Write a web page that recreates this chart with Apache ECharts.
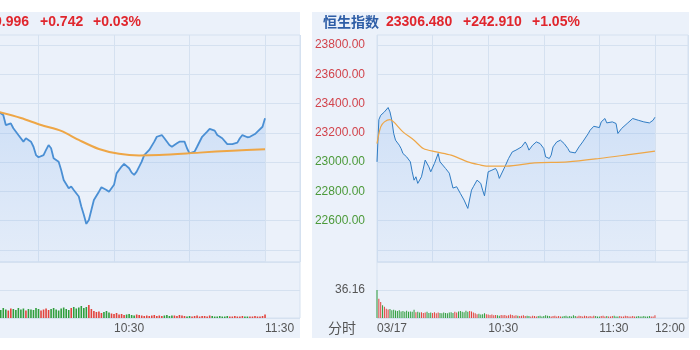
<!DOCTYPE html>
<html><head><meta charset="utf-8">
<script src="https://cdn.jsdelivr.net/npm/echarts@6/dist/echarts.min.js"></script>
<style>html,body{margin:0;padding:0;background:#fff}#c{width:700px;height:350px}</style>
</head><body><div id="c"></div>
<script>
// ---------------- DATA (minutes after 09:30) ----------------
// Left panel (上证指数, cut off on the left)
const leftHeader = ['2789.996', '+0.742', '+0.03%'];
const leftPrevClose = 2789.254;
const leftPriceMin = [14,15,16,17,19,20,22,24,25,27,28,29,30,32,33,34,35,36,38,39,40,42,43,44,46,47,48,49,50,51,52,54,55,57,58,60,61,63,64,66,67,68,69,71,72,74,76,77,79,80,82,83,85,86,88,89,90,92,93,95,97,98,100,101,103,105,107,109,110,111,113,114,116,117,119,120];
const leftPrice = [2792.6,2792.0,2791.3,2787.2,2787.9,2785.9,2783.1,2780.4,2781.8,2780.4,2778.3,2774.9,2774.0,2774.9,2777.0,2779.0,2777.7,2773.6,2772.2,2768.8,2764.7,2761.3,2762.0,2760.6,2757.9,2753.8,2750.4,2746.7,2748.3,2752.4,2756.5,2759.9,2761.7,2760.6,2759.9,2762.7,2767.4,2770.2,2771.3,2769.5,2767.7,2766.8,2768.1,2772.2,2774.9,2777.0,2780.4,2782.4,2783.1,2781.8,2779.0,2778.3,2779.7,2780.4,2780.4,2777.7,2775.6,2776.3,2778.3,2782.4,2784.5,2785.6,2784.9,2783.1,2781.8,2779.4,2779.4,2780.0,2781.8,2783.1,2782.2,2782.4,2783.5,2784.5,2786.5,2789.996];
const leftAvgMin = [14,23,31,39,46,54,62,70,78,94,107,120];
const leftAvg = [2792.6,2790.1,2787.2,2784.8,2781.1,2777.4,2775.4,2774.7,2774.9,2775.9,2776.7,2777.3];
const leftGridMin = 2736, leftGridMax = 2820, leftGridStep = 12;
const leftVolStart = 14;
const leftVol = [18,16,20,17,15,19,18,16,20,17, 19,15,18,17,16,20,18,15,17,19, 16,18,20,17,15,19,21,18,16,20,
  22,19,21,24,20,22,26,18,14,12, 13,10,12,14,11,9,8,10,7,8, 6,7,8,6,5,7,6,5,4,5,
  4,5,6,4,5,4,5,6,4,5, 5,4,6,5,4,3,4,3,4,5, 3,4,4,3,5,4,3,3,4,3, 3,4,3,3,4,3,3,4,3,3, 3,3,4,3,3,4,7];
const leftVolOpen = 56;   // 09:30 bar (off screen) sets the volume scale
const leftTimeLabels = {0: '03/17', 60: '10:30', 120: '11:30'};

// Right panel (恒生指数)
const rightName = '恒生指数';
const rightHeader = ['23306.480', '+242.910', '+1.05%'];
const rightPrevClose = 23063.57;
const rightPriceMin = [0,1,2,3,4,6,7,8,9,10,12,13,14,16,18,19,20,21,22,23,24,26,28,29,31,33,34,37,39,41,43,45,47,49,50,51,52,54,56,57,58,59,60,62,64,65,66,67,69,71,73,75,76,78,80,81,82,84,86,88,90,91,93,94,95,97,99,101,103,104,107,109,111,112,114,115,117,120,121,123,124,127,129,130,132,135,138,139,141,144,147,149,150];
const rightPrice = [23002,23290,23320,23309,23343,23373,23343,23286,23196,23150,23116,23093,23059,23036,23002,22934,22877,22900,22855,22843,22900,23014,22968,22934,22991,23059,23002,22957,22925,22823,22832,22786,22741,22684,22695,22809,22832,22877,22855,22809,22770,22850,22934,22945,22957,22934,22889,22900,22968,23025,23070,23082,23070,23104,23138,23116,23082,23116,23138,23127,23093,23036,23025,23048,23104,23138,23150,23127,23093,23070,23063,23104,23138,23150,23195,23218,23245,23236,23275,23298,23268,23275,23264,23196,23230,23264,23298,23309,23286,23275,23268,23286,23306.48];
const rightAvgMin = [0,2,4,7,9,14,20,25,32,40,49,56,59,70,85,103,120,138,150];
const rightAvg = [23127,23241,23275,23291,23275,23207,23150,23093,23070,23048,23002,22980,22973,22973,22995,23002,23025,23055,23075];
const rightGridMin = 22400, rightGridMax = 23800, rightGridStep = 200;
const rightVolStart = 0;
const rightVol = [36.16,25,20.8,16.6,14.5,12,11,11.5,10,10.5, 9.6,9,10,8.5,9,8,9.5,8,8.5,8,
  10.5,7.5,8,7,7.5,6.5,7,8,6.5,7, 6.5,7.5,6,7,6.5,6,7,6.5,6,7, 7.5,6.5,8,7,8.5,9,8,7.5,9.5,8,
  9,8.5,7,6,5,5.5,4.5,5,6,5, 4.5,4,4.5,3.5,4,3.5,3,4,3.5,4, 3,3.5,4.5,4,3,3.5,3,2.5,3,3.5,
  2.5,3,2.5,2,3,2.5,2,2.5,3,2, 2.5,3.5,3,2.5,2,2.5,3,2,2.5,2, 2,2.5,3,2,2.5,2,3.5,2.5,2,3,
  2.5,2,3,2.5,2,2.5,2,3,2.5,2, 2,2.5,3,2,2.5,2,2,2.5,3,2, 2,2.5,2,2,3,2.5,2,2,2.5,2, 2,2.5,2,2,2.5,2,2,2.5,2,2,3.5];
const rightVolMaxLabel = 36.16;
const rightTimeLabels = {0: '03/17', 60: '10:30', 120: '11:30', 150: '12:00'};

// ---------------- LAYOUT / STYLE ----------------
const PANEL_BG = '#ebf1fa', GRID_C = '#d5e1f0';
const RED = '#e0262d', UP = '#e2433c', DOWN = '#2f9e3c';
const LBL_RED = '#d2444c', LBL_GREEN = '#4c9a3a';
const priceTop = 35, gridTop = 45, gridBottom = 250, priceBottom = 262, volBottom = 318;
const L = { left: -37, right: 300, pxPerMin: 2.517 };
const R = { left: 377, right: 688, pxPerMin: 1.853 };
const FONT = '"Liberation Sans", Arial, sans-serif';

function priceRange(gmin, gmax) {
  const ppu = (gridBottom - gridTop) / (gmax - gmin);
  return [gmin - (priceBottom - gridBottom) / ppu, gmax + (gridTop - priceTop) / ppu];
}
function pairs(ms, vs) { return ms.map((m, i) => [m, vs[i]]); }
function interp(ms, vs, m) {
  if (m <= ms[0]) return vs[0];
  for (let i = 1; i < ms.length; i++) if (m <= ms[i]) {
    const t = (m - ms[i-1]) / (ms[i] - ms[i-1]); return vs[i-1] + t * (vs[i] - vs[i-1]);
  }
  return vs[vs.length - 1];
}
function volData(start, vols, ms, ps) {
  return vols.map((v, i) => {
    const m = start + i;
    const up = m === 0 ? false : interp(ms, ps, m) >= interp(ms, ps, m - 1);
    return { value: [m, v], itemStyle: { color: up ? UP : DOWN } };
  });
}

const grids = [], xAxes = [], yAxes = [], series = [];
function buildPanel(P, cfg) {
  const xmax = (P.right - P.left) / P.pxPerMin;
  const width = P.right - P.left;
  const g0 = grids.length;
  const gb = { outerBoundsMode: 'none', containLabel: false };
  grids.push(Object.assign({ left: P.left, top: priceTop, width: width, height: priceBottom - priceTop, show: true, borderColor: GRID_C, borderWidth: 1 }, gb));
  grids.push(Object.assign({ left: P.left, top: gridTop, width: width, height: gridBottom - gridTop }, gb));
  grids.push(Object.assign({ left: P.left, top: priceBottom, width: width, height: volBottom - priceBottom, show: true, borderColor: GRID_C, borderWidth: 1 }, gb));
  const baseX = { type: 'value', min: 0, max: xmax, interval: 30, axisLine: { show: false }, axisTick: { show: false } };
  xAxes.push(Object.assign({}, baseX, { gridIndex: g0, axisLabel: { show: false }, splitLine: { show: true, lineStyle: { color: GRID_C, width: 1 } } }));
  xAxes.push(Object.assign({}, baseX, { gridIndex: g0 + 1, axisLabel: { show: false }, splitLine: { show: false } }));
  xAxes.push(Object.assign({}, baseX, { gridIndex: g0 + 2, splitLine: { show: false },
    axisLabel: { show: true, align: 'left', margin: 5, color: '#555', fontSize: 12, fontFamily: FONT, showMinLabel: true, showMaxLabel: false, hideOverlap: false,
      formatter: v => cfg.timeLabels[Math.round(v)] !== undefined && Math.abs(v - Math.round(v)) < 1e-6 ? cfg.timeLabels[Math.round(v)] : '' } }));
  const pr = priceRange(cfg.gmin, cfg.gmax);
  yAxes.push({ type: 'value', gridIndex: g0, min: pr[0], max: pr[1], show: false, splitLine: { show: false } });
  yAxes.push({ type: 'value', gridIndex: g0 + 1, min: cfg.gmin, max: cfg.gmax, interval: cfg.gstep,
    axisLine: { show: false }, axisTick: { show: false },
    splitLine: { show: true, lineStyle: { color: GRID_C, width: 1 } },
    axisLabel: { show: cfg.showYLabels, showMinLabel: false, margin: 12, fontSize: 12, fontFamily: FONT,
      formatter: v => (v > cfg.prevClose ? '{r|' : '{g|') + v.toFixed(2) + '}',
      rich: { r: { color: LBL_RED, fontSize: 12, fontFamily: FONT }, g: { color: LBL_GREEN, fontSize: 12, fontFamily: FONT } } } });
  yAxes.push({ type: 'value', gridIndex: g0 + 2, min: 0, max: cfg.volMax * 2, interval: cfg.volMax,
    axisLine: { show: false }, axisTick: { show: false },
    splitLine: { show: true, lineStyle: { color: GRID_C, width: 1 } },
    axisLabel: { show: cfg.showYLabels, margin: 12, color: '#555', fontSize: 12, fontFamily: FONT, showMinLabel: false, showMaxLabel: false,
      formatter: v => Math.abs(v - cfg.volMax) < 1e-6 ? v.toFixed(2) : '' } });
  series.push({ type: 'line', xAxisIndex: g0, yAxisIndex: g0, data: pairs(cfg.pm, cfg.pv), symbol: 'none',
    lineStyle: { color: cfg.lineColor, width: cfg.lineW }, z: 3,
    areaStyle: { origin: 'start', color: new echarts.graphic.LinearGradient(0, 0, 0, 1, [
      { offset: 0, color: 'rgba(110,165,235,0.32)' }, { offset: 1, color: 'rgba(130,175,235,0.10)' }]) } });
  series.push({ type: 'line', xAxisIndex: g0, yAxisIndex: g0, data: pairs(cfg.am, cfg.av), symbol: 'none', smooth: 0.3,
    lineStyle: { color: '#eea646', width: cfg.avgW }, z: 4 });
  series.push({ type: 'bar', xAxisIndex: g0 + 2, yAxisIndex: g0 + 2, barWidth: cfg.barW,
    data: volData(cfg.vstart, cfg.vol, cfg.pm, cfg.pv) });
}

buildPanel(L, { gmin: leftGridMin, gmax: leftGridMax, gstep: leftGridStep, prevClose: leftPrevClose, showYLabels: false,
  pm: leftPriceMin, pv: leftPrice, am: leftAvgMin, av: leftAvg, vstart: leftVolStart, vol: leftVol, volMax: leftVolOpen,
  timeLabels: leftTimeLabels, lineColor: '#4a8fd4', lineW: 1.8, avgW: 2, barW: 1.6 });
buildPanel(R, { gmin: rightGridMin, gmax: rightGridMax, gstep: rightGridStep, prevClose: rightPrevClose, showYLabels: true,
  pm: rightPriceMin, pv: rightPrice, am: rightAvgMin, av: rightAvg, vstart: rightVolStart, vol: rightVol, volMax: rightVolMaxLabel,
  timeLabels: rightTimeLabels, lineColor: '#2f7cc4', lineW: 1, avgW: 1.2, barW: 1 });

const hdrFont = { fontSize: 14, fontWeight: 'bold', fontFamily: FONT, fill: RED };
const graphic = [
  { type: 'rect', z: -10, shape: { x: 0, y: 12, width: 300, height: 326 }, style: { fill: PANEL_BG } },
  { type: 'rect', z: -10, shape: { x: 312, y: 12, width: 377, height: 326 }, style: { fill: PANEL_BG } },
  { type: 'text', x: 29, y: 22, style: Object.assign({ text: leftHeader[0], align: 'right', verticalAlign: 'middle' }, hdrFont) },
  { type: 'text', x: 40, y: 22, style: Object.assign({ text: leftHeader[1], align: 'left', verticalAlign: 'middle' }, hdrFont) },
  { type: 'text', x: 93, y: 22, style: Object.assign({ text: leftHeader[2], align: 'left', verticalAlign: 'middle' }, hdrFont) },
  { type: 'text', x: 323, y: 22, style: { text: rightName, align: 'left', verticalAlign: 'middle', fontSize: 14, fontWeight: 'bold', fontFamily: '"Noto Sans CJK SC", sans-serif', fill: '#2d5da6' } },
  { type: 'text', x: 386, y: 22, style: Object.assign({ text: rightHeader[0], align: 'left', verticalAlign: 'middle' }, hdrFont) },
  { type: 'text', x: 463, y: 22, style: Object.assign({ text: rightHeader[1], align: 'left', verticalAlign: 'middle' }, hdrFont) },
  { type: 'text', x: 532, y: 22, style: Object.assign({ text: rightHeader[2], align: 'left', verticalAlign: 'middle' }, hdrFont) },
  { type: 'text', x: 328, y: 328, style: { text: '分时', align: 'left', verticalAlign: 'middle', fontSize: 14, fontFamily: '"Noto Sans CJK SC", sans-serif', fill: '#555' } }
];

const chart = echarts.init(document.getElementById('c'), null, { renderer: 'canvas' });
chart.setOption({ animation: false, backgroundColor: '#fff', grid: grids, xAxis: xAxes, yAxis: yAxes, series: series, graphic: graphic });
</script></body></html>
